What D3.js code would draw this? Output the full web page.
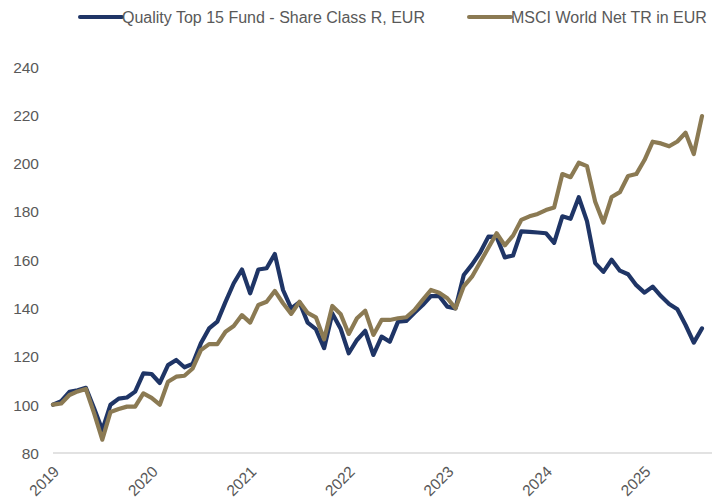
<!DOCTYPE html>
<html>
<head>
<meta charset="utf-8">
<script src="https://cdn.jsdelivr.net/npm/d3@7/dist/d3.min.js"></script>
<style>
  html, body { margin: 0; padding: 0; background: #ffffff; }
  svg text { font-family: "Liberation Sans", Arial, sans-serif; fill: #595959; }
</style>
</head>
<body>
<svg id="chart" width="712" height="503"></svg>
<script>
// ---- data ----
const months = [
  "2019-01","2019-02","2019-03","2019-04","2019-05","2019-06","2019-07","2019-08","2019-09","2019-10","2019-11","2019-12",
  "2020-01","2020-02","2020-03","2020-04","2020-05","2020-06","2020-07","2020-08","2020-09","2020-10","2020-11","2020-12",
  "2021-01","2021-02","2021-03","2021-04","2021-05","2021-06","2021-07","2021-08","2021-09","2021-10","2021-11","2021-12",
  "2022-01","2022-02","2022-03","2022-04","2022-05","2022-06","2022-07","2022-08","2022-09","2022-10","2022-11","2022-12",
  "2023-01","2023-02","2023-03","2023-04","2023-05","2023-06","2023-07","2023-08","2023-09","2023-10","2023-11","2023-12",
  "2024-01","2024-02","2024-03","2024-04","2024-05","2024-06","2024-07","2024-08","2024-09","2024-10","2024-11","2024-12",
  "2025-01","2025-02","2025-03","2025-04","2025-05","2025-06","2025-07","2025-08"
];
const fundName = "Quality Top 15 Fund - Share Class R, EUR";
const indexName = "MSCI World Net TR in EUR";
const fundValues = [
  100, 101.5, 105.3, 106, 107, 98.5, 89.5, 100, 102.5, 103, 105.4, 113,
  112.7, 109, 116.4, 118.5, 115.5, 116.9, 125.4, 131.6, 134.4, 142.6, 150.3, 156,
  146.1, 156, 156.5, 162.4, 147.5, 139.9, 142.4, 134, 131.3, 123.4, 137.8, 131.6,
  121.3, 126.8, 130.6, 120.6, 128.2, 126.1, 134.4, 134.7, 138.1, 141.3, 145, 145,
  140.6, 139.9, 153.7, 158, 163, 169.6, 169.5, 161, 161.8, 171.8, 171.6, 171.3,
  171, 167, 178, 177, 185.9, 176, 158.6, 155, 160, 155.5, 154, 149.5,
  146.4, 148.9, 145, 141.7, 139.5, 133, 125.7, 131.6
];
const indexValues = [
  100, 100.5, 104, 105.5, 106.5, 96.5, 85.5, 97, 98.2, 99.2, 99.2, 104.7,
  102.8, 100, 109.5, 111.6, 112, 115, 122.6, 125.1, 125.1, 130.2, 132.6, 137.1,
  134, 141.3, 142.6, 147.1, 142, 137.6, 142.6, 138, 136.2, 127.1, 140.9, 137.6,
  129.3, 135.8, 138.9, 128.9, 135.1, 135.1, 135.8, 136.2, 139.2, 143.4, 147.5, 146.4,
  144.1, 139.9, 149, 153, 159, 165, 171, 166, 170, 176.5, 178, 179,
  180.6, 181.7, 195.5, 194.2, 200.2, 198.8, 184, 175.4, 186, 188, 194.7, 195.5,
  201.3, 208.9, 208.2, 207, 209, 212.6, 203.8, 219.5
];
const xTickMonths = ["2019-01","2020-01","2021-01","2022-01","2023-01","2024-01","2025-01"];
const xTickLabels = ["2019","2020","2021","2022","2023","2024","2025"];
const yTicks = [80, 100, 120, 140, 160, 180, 200, 220, 240];

// ---- layout ----
const svg = d3.select("#chart");
const colFund = "#1f3566";
const colIndex = "#8b7a53";

const x = d3.scalePoint().domain(months).range([53, 702]);
const y = d3.scaleLinear().domain([80, 240]).range([453, 66.6]);

// baseline gridline at 80
svg.append("line")
  .attr("x1", 53).attr("x2", 712)
  .attr("y1", y(80)).attr("y2", y(80))
  .attr("stroke", "#d9d9d9").attr("stroke-width", 1.5);

// y axis labels
const yAxis = d3.axisLeft(y).tickValues(yTicks).tickSize(0).tickPadding(0);
const gy = svg.append("g").attr("transform", "translate(39,0)").call(yAxis);
gy.select(".domain").remove();
gy.selectAll("text")
  .attr("font-size", "15.5px")
  .attr("font-family", "Liberation Sans, Arial, sans-serif")
  .attr("fill", "#595959")
  .attr("dy", "0.35em");

// x axis labels (rotated)
const xAxis = d3.axisBottom(x).tickValues(xTickMonths)
  .tickFormat((d, i) => xTickLabels[i]).tickSize(0).tickPadding(0);
const gx = svg.append("g").attr("transform", "translate(-1,465)").call(xAxis);
gx.select(".domain").remove();
gx.selectAll("text")
  .attr("font-size", "15.5px")
  .attr("font-family", "Liberation Sans, Arial, sans-serif")
  .attr("fill", "#595959")
  .attr("text-anchor", "end")
  .attr("dy", "0.7em")
  .attr("transform", "rotate(-45)");

// lines
const line = d3.line().x((d, i) => x(months[i])).y(d => y(d));
svg.append("path").datum(fundValues)
  .attr("d", line).attr("fill", "none")
  .attr("stroke", colFund).attr("stroke-width", 4.2)
  .attr("stroke-linejoin", "round").attr("stroke-linecap", "round");
svg.append("path").datum(indexValues)
  .attr("d", line).attr("fill", "none")
  .attr("stroke", colIndex).attr("stroke-width", 4.2)
  .attr("stroke-linejoin", "round").attr("stroke-linecap", "round");

// legend
const legend = [
  { name: fundName, color: colFund, x0: 80 },
  { name: indexName, color: colIndex, x0: 469 }
];
legend.forEach(l => {
  svg.append("line")
    .attr("x1", l.x0).attr("x2", l.x0 + 42)
    .attr("y1", 17).attr("y2", 17)
    .attr("stroke", l.color).attr("stroke-width", 4).attr("stroke-linecap", "round");
  svg.append("text")
    .attr("x", l.x0 + 42).attr("y", 17).attr("dy", "0.35em")
    .attr("font-size", "16px").attr("fill", "#595959")
    .text(l.name);
});
</script>
</body>
</html>
